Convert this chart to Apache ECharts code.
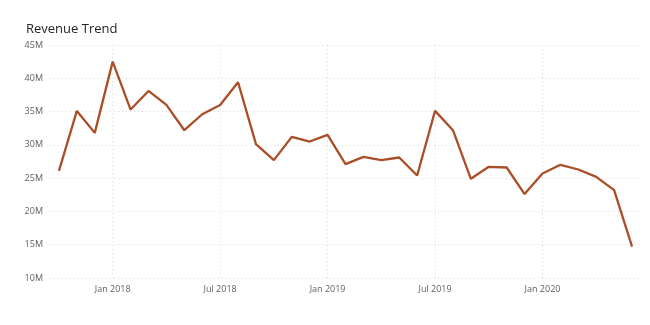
<!DOCTYPE html>
<html><head><meta charset="utf-8">
<script src="https://cdn.jsdelivr.net/npm/echarts@6/dist/echarts.min.js"></script>
<style>html,body{margin:0;padding:0;background:#fff}#c{width:650px;height:325px}</style>
</head><body><div id="c"></div>
<script>
const months = ["Oct 2017","Nov 2017","Dec 2017","Jan 2018","Feb 2018","Mar 2018","Apr 2018","May 2018","Jun 2018","Jul 2018","Aug 2018","Sep 2018","Oct 2018","Nov 2018","Dec 2018","Jan 2019","Feb 2019","Mar 2019","Apr 2019","May 2019","Jun 2019","Jul 2019","Aug 2019","Sep 2019","Oct 2019","Nov 2019","Dec 2019","Jan 2020","Feb 2020","Mar 2020","Apr 2020","May 2020","Jun 2020"];
const revenueM = [26.1,35.1,31.8,42.5,35.3,38.1,36.0,32.2,34.6,36.0,39.4,30.1,27.7,31.2,30.5,31.5,27.1,28.2,27.7,28.1,25.4,35.1,32.2,24.9,26.7,26.6,22.6,25.7,27.0,26.3,25.2,23.2,14.7];
const yTicks = {min:10, max:45, step:5};
const titleText = "Revenue Trend";

const isMark = (i) => /^(Jan|Jul) /.test(months[i]);
const font = "'Open Sans', 'Noto Sans', sans-serif";
const chart = echarts.init(document.getElementById('c'), null, {renderer:'canvas'});
chart.setOption({
  animation:false,
  title:{text:titleText,left:21,top:18,textStyle:{fontFamily:font,fontSize:13,fontWeight:'normal',color:'#252423'}},
  grid:{left:50,right:9,top:45,bottom:47,containLabel:false},
  xAxis:{type:'category',data:months,boundaryGap:true,
    axisLine:{show:false},axisTick:{show:false},
    axisLabel:{interval:(i)=>isMark(i),formatter:(v)=>v,color:'#605E5C',fontFamily:font,fontSize:9,margin:7},
    splitLine:{show:true,alignWithLabel:true,interval:(i)=>isMark(i),lineStyle:{type:[1,3],color:'#d6d6d6',width:1}}
  },
  yAxis:{type:'value',min:yTicks.min,max:yTicks.max,interval:yTicks.step,
    axisLabel:{formatter:'{value}M',color:'#605E5C',fontFamily:font,fontSize:9,margin:7},
    axisLine:{show:false},axisTick:{show:false},
    splitLine:{lineStyle:{type:[1,3],color:'#d6d6d6',width:1}}
  },
  series:[{type:'line',data:revenueM,symbol:'none',lineStyle:{color:'#A94E27',width:2.3},itemStyle:{color:'#A94E27'}}]
});
</script></body></html>
